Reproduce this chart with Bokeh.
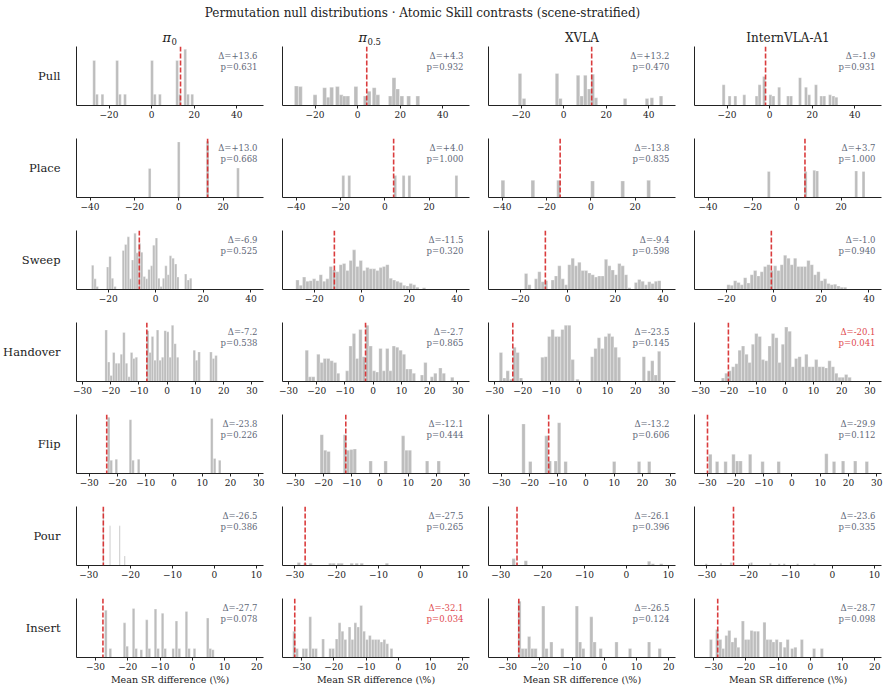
from bokeh.plotting import figure
from bokeh.models import Range1d, FixedTicker, Span, Label, ColumnDataSource
from bokeh.layouts import row, column
from bokeh.core.properties import value
from bokeh.embed import file_html
from bokeh.resources import INLINE

TITLE = "Permutation null distributions · Atomic Skill contrasts (scene-stratified)"
MODEL_BASE = ["π", "π", "XVLA", "InternVLA-A1"]
MODEL_SUB = ["0", "0.5", "", ""]
SKILLS = ["Pull", "Place", "Sweep", "Handover", "Flip", "Pour", "Insert"]
XLABEL = "Mean SR difference (\\%)"

# observed contrast and permutation p-value, per skill (rows) and model (columns)
delta_obs = [
    [13.6, 4.3, 13.2, -1.9],
    [13.0, 4.0, -13.8, 3.7],
    [-6.9, -11.5, -9.4, -1.0],
    [-7.2, -2.7, -23.5, -20.1],
    [-23.8, -12.1, -13.2, -29.9],
    [-26.5, -27.5, -26.1, -23.6],
    [-27.7, -32.1, -26.5, -28.7],
]
p_values = [
    [0.631, 0.932, 0.470, 0.931],
    [0.668, 1.000, 0.835, 1.000],
    [0.525, 0.320, 0.598, 0.940],
    [0.538, 0.865, 0.145, 0.041],
    [0.226, 0.444, 0.606, 0.112],
    [0.386, 0.265, 0.396, 0.335],
    [0.078, 0.034, 0.124, 0.098],
]

# shared x limits and ticks per skill row
x_lo = [-35.3, -46.1, -33.3, -32.1, -34.5, -32.9, -35.9]
x_hi = [52.6, 38.2, 45.3, 34.1, 31.7, 11.7, 22.1]
x_ticks = [
    [-20, 0, 20, 40],
    [-40, -20, 0, 20],
    [-20, 0, 20, 40],
    [-30, -20, -10, 0, 10, 20, 30],
    [-30, -20, -10, 0, 10, 20, 30],
    [-30, -20, -10, 0, 10],
    [-30, -20, -10, 0, 10, 20],
]

# null-distribution histograms: bin centres, densities, bin widths (per model)
pull_x = [
    [-27.0, -25.7, -23.1, -16.2, -14.9, -12.5, 0.2, 1.5, 3.9, 12.0, 13.3, 15.8, 17.1, 19.1],
    [-28.8, -26.9, -20.0, -15.5, -13.8, -12.2, -9.5, -7.7, -6.2, -4.6, -0.8, 3.6, 5.4, 7.8, 9.5,
     15.4, 17.1, 18.8, 20.8, 24.0, 28.3],
    [-20.5, -18.6, -3.1, -1.5, 6.8, 8.5, 10.2, 12.0, 13.7, 15.2, 28.9, 39.2, 41.5, 45.8],
    [-21.6, -18.8, -16.1, -11.9, -6.1, -4.7, -2.6, 0.4, 1.8, 4.5, 8.7, 10.1, 14.3, 17.1, 18.6,
     21.8, 24.3, 25.7, 28.4, 30.0, 31.4],
]
pull_h = [
    [0.76, 0.19, 0.19, 0.76, 0.19, 0.19, 0.76, 0.19, 0.19, 0.76, 0.19, 0.95, 0.19, 0.19],
    [0.33, 0.32, 0.18, 0.30, 0.14, 0.31, 0.32, 0.18, 0.16, 0.16, 0.32, 0.16, 0.24, 0.30, 0.18,
     0.16, 0.47, 0.28, 0.16, 0.16, 0.16],
    [0.54, 0.12, 0.54, 0.12, 0.51, 0.16, 0.51, 0.28, 0.53, 0.13, 0.12, 0.12, 0.13, 0.16],
    [0.35, 0.16, 0.16, 0.18, 0.16, 0.35, 0.49, 0.18, 0.16, 0.31, 0.16, 0.16, 0.47, 0.31, 0.18,
     0.35, 0.16, 0.16, 0.18, 0.16, 0.14],
]
pull_w = [1.3, 1.8, 1.65, 1.4]

place_x = [
    [-13.1, 0.0, 13.0, 26.7],
    [-18.7, -16.0, 4.7, 8.5, 11.1, 32.3],
    [-39.6, -26.1, -14.5, 0.8, 14.4, 26.1],
    [-12.6, 4.0, 7.9, 9.2, 26.8, 30.1],
]
place_h = [
    [0.49, 0.94, 0.95, 0.50],
    [0.37, 0.37, 0.37, 0.37, 0.37, 0.37],
    [0.29, 0.29, 0.29, 0.28, 0.28, 0.29],
    [0.44, 0.44, 0.46, 0.45, 0.45, 0.44],
]
place_w = [1.2, 1.3, 1.7, 1.3]

sweep_x = [
    [-26.5, -25.5, -24.6, -20.2, -19.2, -18.2, -17.1, -13.6, -12.6, -11.5, -10.6, -9.7, -8.7,
     -7.8, -6.8, -5.9, -4.8, -3.8, -2.8, -1.7, -0.8, 0.3, 1.3, 2.3, 3.3, 4.3, 5.3, 6.2, 7.3,
     8.4, 9.3, 12.6, 13.7, 14.7],
    [-27.0, -25.6, -24.2, -22.8, -21.4, -20.0, -18.6, -17.2, -15.8, -14.4, -13.0, -11.6, -10.2,
     -8.8, -7.4, -6.0, -4.6, -3.2, -1.8, -0.4, 1.0, 2.4, 3.8, 5.2, 6.6, 8.0, 9.4, 10.8, 12.2,
     13.6, 15.0, 16.4, 17.8, 19.2, 20.6, 22.0, 23.4, 26.2],
    [-17.5, -16.1, -13.3, -11.9, -10.5, -9.1, -6.3, -4.9, -3.5, -2.1, -0.7, 0.7, 2.1, 3.5, 4.9,
     6.3, 7.7, 9.1, 10.5, 11.9, 13.3, 14.7, 16.1, 17.5, 18.9, 20.3, 21.7, 23.1, 24.5, 25.9,
     28.7, 30.1, 31.5, 32.9, 34.3, 35.7, 37.1, 38.5],
    [-19.0, -17.6, -16.2, -14.8, -13.4, -12.0, -10.6, -9.2, -7.8, -6.4, -5.0, -3.6, -2.2, -0.8,
     0.6, 2.0, 3.4, 4.8, 6.2, 7.6, 9.0, 10.4, 11.8, 13.2, 14.6, 16.0, 17.4, 18.8, 20.2, 21.6,
     23.0, 24.4, 25.8, 27.2, 28.6, 30.0],
]
sweep_h = [
    [0.41, 0.18, 0.05, 0.38, 0.56, 0.19, 0.05, 0.66, 0.76, 0.89, 0.18, 0.50, 0.95,
     0.62, 0.78, 0.63, 0.22, 0.18, 0.34, 0.40, 0.75, 0.87, 0.19, 0.05, 0.19, 0.40, 0.25, 0.57,
     0.53, 0.43, 0.21, 0.26, 0.16, 0.19],
    [0.16, 0.07, 0.21, 0.14, 0.15, 0.18, 0.15, 0.25, 0.14, 0.18, 0.39, 0.33, 0.30,
     0.42, 0.44, 0.32, 0.49, 0.67, 0.39, 0.49, 0.32, 0.37, 0.35, 0.35, 0.32, 0.37, 0.39, 0.42,
     0.19, 0.16, 0.14, 0.12, 0.07, 0.06, 0.10, 0.08, 0.04, 0.03],
    [0.27, 0.08, 0.18, 0.30, 0.13, 0.15, 0.16, 0.23, 0.40, 0.18, 0.08, 0.42, 0.53, 0.40, 0.46,
     0.32, 0.32, 0.28, 0.25, 0.21, 0.23, 0.23, 0.51, 0.40, 0.33, 0.25, 0.44, 0.40, 0.25, 0.03,
     0.12, 0.17, 0.14, 0.08, 0.13, 0.10, 0.14, 0.15],
    [0.08, 0.07, 0.15, 0.12, 0.08, 0.20, 0.11, 0.25, 0.32, 0.23, 0.30, 0.39, 0.42, 0.32,
     0.40, 0.32, 0.42, 0.58, 0.53, 0.42, 0.53, 0.39, 0.39, 0.39, 0.49, 0.42, 0.25, 0.30, 0.15,
     0.18, 0.10, 0.08, 0.09, 0.06, 0.04, 0.04],
]
sweep_w = [1.0, 1.4, 1.4, 1.4]

handover_x = [
    [-21.6, -20.7, -19.8, -18.9, -18.0, -17.1, -16.2, -15.3, -14.4, -13.5, -12.6, -11.8, -10.9,
     -6.9, -6.0, -5.2, -4.3, -3.4, -2.5, -1.6, -0.7, 0.2, 1.1, 1.9, 2.8, 3.7, 9.6, 10.4, 11.3,
     15.5, 16.4, 17.3],
    [-23.5, -22.4, -21.2, -19.4, -18.2, -17.1, -15.9, -14.7, -13.5, -12.4, -9.2, -8.0, -6.8,
     -5.7, -4.5, -3.3, -2.1, -0.9, 0.3, 1.4, 2.6, 3.8, 5.0, 6.1, 7.3, 8.5, 9.7, 10.9, 12.0,
     13.2, 14.4, 17.3, 18.5, 20.8, 22.0, 23.8, 25.0, 28.0],
    [-27.7, -26.5, -25.3, -24.1, -22.9, -21.8, -20.6, -13.0, -11.8, -10.6, -9.4, -8.2, -7.1,
     -5.9, -4.7, -3.5, -2.3, -0.6, 4.6, 5.8, 7.0, 8.2, 9.4, 10.6, 11.7, 12.9, 14.1, 22.9, 24.7,
     25.9, 27.1, 28.3],
    [-22.0, -20.8, -19.6, -18.4, -17.2, -16.1, -14.9, -13.7, -12.6, -11.4, -10.2, -9.0, -7.9,
     -6.7, -5.5, -4.3, -3.1, -2.0, -0.8, 0.4, 1.6, 2.7, 3.9, 5.1, 6.3, 7.5, 8.6, 9.8, 11.0,
     12.2, 13.4, 14.5, 15.7, 16.9, 18.1, 19.3, 20.4, 21.6, 22.8],
]
handover_h = [
    [0.87, 0.33, 0.10, 0.49, 0.31, 0.31, 0.46, 0.83, 0.31, 0.08, 0.49, 0.39, 0.41,
     0.86, 0.49, 0.76, 0.36, 0.87, 0.36, 0.41, 0.86, 0.84, 0.41, 0.95, 0.64, 0.41, 0.53, 0.36,
     0.50, 0.50, 0.39, 0.44],
    [0.53, 0.08, 0.08, 0.46, 0.32, 0.39, 0.39, 0.35, 0.32, 0.14, 0.18, 0.60, 0.81,
     0.39, 0.88, 0.42, 0.95, 0.60, 0.18, 0.16, 0.56, 0.18, 0.56, 0.18, 0.60, 0.58, 0.53, 0.46,
     0.21, 0.21, 0.14, 0.11, 0.32, 0.08, 0.14, 0.23, 0.14, 0.07],
    [0.49, 0.06, 0.18, 0.04, 0.58, 0.49, 0.06, 0.41, 0.42, 0.76, 0.88, 0.76, 0.76,
     0.88, 0.95, 0.95, 0.37, 0.04, 0.42, 0.56, 0.74, 0.56, 0.76, 0.81, 0.76, 0.58, 0.41, 0.42,
     0.18, 0.35, 0.11, 0.51],
    [0.06, 0.14, 0.18, 0.25, 0.30, 0.53, 0.60, 0.46, 0.32, 0.63, 0.81, 0.76, 0.37,
     0.35, 0.60, 0.81, 0.74, 0.32, 0.63, 0.92, 0.85, 0.25, 0.39, 0.42, 0.25, 0.46, 0.25, 0.25,
     0.37, 0.25, 0.25, 0.23, 0.35, 0.25, 0.14, 0.07, 0.07, 0.12, 0.07],
]
handover_w = [0.88, 1.18, 1.18, 1.18]

flip_x = [
    [-23.1, -22.2, -20.4, -15.4, -14.5, -12.5, 13.4, 14.4, 16.2],
    [-20.6, -19.4, -18.2, -12.4, -11.3, -10.1, -8.9, -3.3, 2.0, 8.2, 9.4, 10.6, 16.7, 20.8],
    [-22.1, -19.7, -14.0, -12.8, -10.7, -9.5, -7.2, 10.0, 18.8, 22.4],
    [-28.9, -26.5, -23.5, -20.7, -19.4, -18.2, -14.8, -10.4, -4.7, 12.2, 14.9, 18.1, 22.4, 26.5],
]
flip_h = [
    [0.94, 0.22, 0.24, 0.90, 0.22, 0.24, 0.92, 0.25, 0.22],
    [0.65, 0.39, 0.37, 0.65, 0.39, 0.40, 0.41, 0.21, 0.21, 0.63, 0.39, 0.39, 0.21, 0.21],
    [0.83, 0.20, 0.63, 0.21, 0.21, 0.85, 0.20, 0.20, 0.20, 0.20],
    [0.32, 0.20, 0.20, 0.32, 0.21, 0.21, 0.32, 0.20, 0.20, 0.33, 0.20, 0.21, 0.21, 0.20],
]
flip_w = [0.9, 1.2, 1.2, 1.2]

pour_x = [
    [-26.5, -24.9, -22.6, -21.4],
    [-29.0, -27.5, -26.2, -21.5, -20.7, -19.5, -18.8, -16.4, -15.2, -14.0, -8.0],
    [-26.9, -24.0, 5.4, 6.3, 8.3],
    [-30.1, -26.6, -24.2, -19.8, -19.3, -14.8, -12.7, -11.5, -8.3, -4.3],
]
pour_h = [
    [0.95, 0.67, 0.67, 0.16],
    [0.05, 0.04, 0.04, 0.04, 0.04, 0.04, 0.04, 0.04, 0.04, 0.04, 0.04],
    [0.12, 0.08, 0.07, 0.03, 0.03],
    [0.03, 0.04, 0.05, 0.04, 0.05, 0.04, 0.03, 0.03, 0.03, 0.03],
]
pour_w = [0.25, 0.8, 0.8, 0.5]

insert_x = [
    [-26.8, -25.4, -21.0, -20.2, -18.2, -17.4, -15.8, -14.1, -13.3, -11.4, -10.6, -9.2, -8.4,
     -5.9, -4.9, -4.0, -1.8, -1.0, 0.7, 4.8, 5.6, 6.4],
    [-32.3, -31.4, -29.4, -28.5, -27.3, -26.4, -25.5, -23.3, -21.1, -20.2, -19.1, -18.2, -17.3,
     -16.4, -15.1, -14.2, -13.3, -12.4, -11.5, -10.6, -9.7, -8.8, -7.9, -7.0, -6.1, -5.2, -4.3,
     -3.4, -2.1],
    [-26.3, -25.3, -24.3, -23.3, -22.3, -21.3, -18.9, -17.9, -16.4, -13.0, -8.5, -7.5, -6.5,
     -4.0, -3.0, -1.1, 3.8, 8.0, 13.9, 17.2],
    [-30.8, -28.9, -27.9, -27.0, -26.0, -25.1, -24.1, -23.2, -22.3, -20.9, -20.0, -19.1, -18.2,
     -17.2, -16.2, -14.2, -13.3, -12.3, -11.4, -10.4, -9.2, -7.9, -7.0, -5.6, -4.6, -2.6, 1.2,
     3.6],
]
insert_h = [
    [0.79, 0.15, 0.58, 0.19, 0.82, 0.15, 0.13, 0.63, 0.15, 0.81, 0.15, 0.74, 0.15,
     0.15, 0.61, 0.15, 0.77, 0.15, 0.15, 0.66, 0.15, 0.13],
    [0.44, 0.15, 0.15, 0.15, 0.68, 0.15, 0.15, 0.31, 0.15, 0.15, 0.31, 0.58, 0.44,
     0.30, 0.51, 0.30, 0.58, 0.51, 0.87, 0.44, 0.30, 0.37, 0.30, 0.30, 0.30, 0.26, 0.30,
     0.23, 0.15],
    [0.94, 0.15, 0.15, 0.35, 0.15, 0.15, 0.86, 0.15, 0.26, 0.15, 0.86, 0.26, 0.15,
     0.68, 0.26, 0.15, 0.26, 0.15, 0.26, 0.15],
    [0.30, 0.47, 0.30, 0.15, 0.37, 0.45, 0.26, 0.33, 0.17, 0.61, 0.30, 0.30, 0.45,
     0.44, 0.44, 0.59, 0.30, 0.30, 0.26, 0.30, 0.26, 0.17, 0.30, 0.15, 0.17, 0.30, 0.15,
     0.15],
]
insert_w = [0.8, 0.85, 1.0, 0.95]

hist_x = [pull_x, place_x, sweep_x, handover_x, flip_x, pour_x, insert_x]
hist_h = [pull_h, place_h, sweep_h, handover_h, flip_h, pour_h, insert_h]
hist_w = [pull_w, place_w, sweep_w, handover_w, flip_w, pour_w, insert_w]

SERIF = "DejaVu Serif"
BAR = "#bdbdbd"
RED = "#d62728"
NOTE = "#5f6878"
NOTE_SIG = "#e0484d"
INK = "#222222"

HEADER_H = 46
ROW_H = 92
LAST_ROW_H = 94
LABEL_W = 64
PANEL_W = 206
FRAME_H = 59


def minus(v):
    return f"{v}".replace("-", "\u2212")


def panel(i, j):
    last = i == len(SKILLS) - 1
    xs, hs, w = hist_x[i][j], hist_h[i][j], hist_w[i][j]
    row_max = max(max(hh) for hh in hist_h[i])
    top = row_max * 1.05
    p = figure(width=PANEL_W, height=LAST_ROW_H if last else ROW_H,
               x_range=Range1d(x_lo[i], x_hi[i]), y_range=Range1d(0, top),
               toolbar_location=None, output_backend="svg",
               min_border_left=12, min_border_right=7, min_border_top=0,
               min_border_bottom=(LAST_ROW_H if last else ROW_H) - FRAME_H,
               outline_line_color=None)
    p.grid.visible = False

    src = ColumnDataSource(dict(
        left=[x - w / 2 for x in xs], right=[x + w / 2 for x in xs],
        top=hs, bottom=[0] * len(hs)))
    p.quad(left="left", right="right", top="top", bottom="bottom", source=src,
           fill_color=BAR, line_color="white", line_width=0.3)

    p.add_layout(Span(location=delta_obs[i][j], dimension="height", line_color=RED,
                      line_alpha=0.9, line_width=1.6, line_dash="5 2"))

    ax = p.xaxis[0]
    ax.ticker = FixedTicker(ticks=x_ticks[i], minor_ticks=[])
    ax.major_label_overrides = {t: minus(t) for t in x_ticks[i]}
    ax.major_label_text_font = SERIF
    ax.major_label_text_font_size = "9px"
    ax.major_label_text_color = INK
    ax.major_label_standoff = 2
    ax.major_tick_out = 3
    ax.major_tick_in = 0
    ax.major_tick_line_color = INK
    ax.axis_line_color = INK
    if last:
        ax.axis_label = XLABEL
        ax.axis_label_text_font = SERIF
        ax.axis_label_text_font_size = "9.5px"
        ax.axis_label_text_font_style = "normal"
        ax.axis_label_text_color = INK
        ax.axis_label_standoff = 1

    ay = p.yaxis[0]
    ay.ticker = FixedTicker(ticks=[], minor_ticks=[])
    ay.major_tick_out = 0
    ay.major_tick_in = 0
    ay.major_label_standoff = 0
    ay.major_label_text_font_size = "0px"
    ay.axis_line_color = INK

    pv = p_values[i][j]
    col = NOTE_SIG if pv < 0.05 else NOTE
    for k, txt in enumerate([f"Δ={delta_obs[i][j]:+.1f}", f"p={pv:.3f}"]):
        p.add_layout(Label(x=x_hi[i], y=top, x_offset=-6, y_offset=-4 - 11 * k,
                           text=txt, text_align="right", text_baseline="top",
                           text_font=SERIF, text_font_size="8.5px", text_color=col))
    return p


def blank(width, height, y_top):
    p = figure(width=width, height=height, x_range=Range1d(0, width),
               y_range=Range1d(y_top, 0), toolbar_location=None, output_backend="svg",
               min_border=0, x_axis_location=None, y_axis_location=None,
               outline_line_color=None)
    p.grid.visible = False
    return p


# header: suptitle and model names
hdr = blank(889, HEADER_H, HEADER_H)
hdr.text(x=[422], y=[12], text=[TITLE], text_font=value(SERIF), text_font_size="12px",
         text_align="center", text_baseline="middle", text_color=INK)
for j, (base, sub) in enumerate(zip(MODEL_BASE, MODEL_SUB)):
    cx = LABEL_W + 12 + 93.5 + PANEL_W * j
    if sub:
        shift = 1 if len(sub) == 1 else -9
        hdr.text(x=[cx + shift], y=[37], text=[base], text_font=value(SERIF),
                 text_font_style="italic", text_font_size="13px", text_align="right",
                 text_baseline="middle", text_color=INK)
        hdr.text(x=[cx + shift + 0.5], y=[40.5], text=[sub], text_font=value(SERIF),
                 text_font_size="8.5px", text_align="left", text_baseline="middle",
                 text_color=INK)
    else:
        hdr.text(x=[cx], y=[37], text=[base], text_font=value(SERIF),
                 text_font_size="12px", text_align="center", text_baseline="middle",
                 text_color=INK)

# skill names down the left side
body_h = ROW_H * (len(SKILLS) - 1) + LAST_ROW_H
lab = blank(LABEL_W, body_h, body_h)
lab.text(x=[60] * len(SKILLS), y=[FRAME_H / 2 + ROW_H * i for i in range(len(SKILLS))],
         text=SKILLS, text_font=value(SERIF), text_font_size="11.5px", text_align="right",
         text_baseline="middle", text_color=INK)

grid_rows = [row(*[panel(i, j) for j in range(4)]) for i in range(len(SKILLS))]
layout = column(hdr, row(lab, column(*grid_rows)))

open("out.html", "w").write(file_html(layout, INLINE, title="Permutation null distributions"))
